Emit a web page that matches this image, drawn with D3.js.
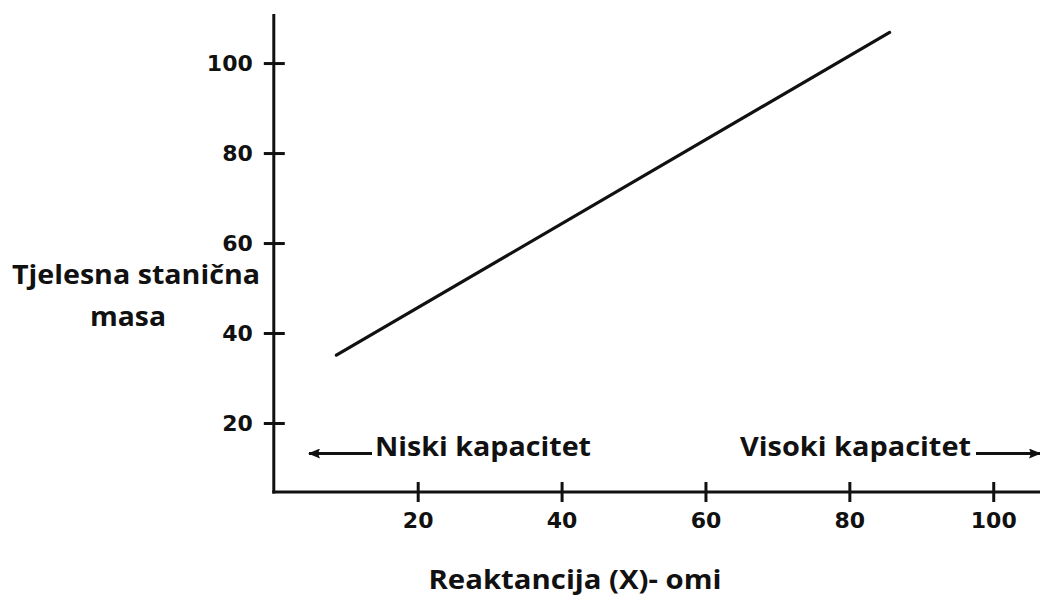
<!DOCTYPE html>
<html>
<head>
<meta charset="utf-8">
<script src="https://cdn.jsdelivr.net/npm/d3@7"></script>
<style>
  html, body { margin: 0; padding: 0; background: #fff; }
  svg { display: block; }
</style>
</head>
<body>
<svg id="chart" width="1040" height="597"></svg>
<script>
// ---- data ----
const xTicks = [20, 40, 60, 80, 100];
const yTicks = [20, 40, 60, 80, 100];
const lineX = [8.7, 85.6];
const lineY = [35.1, 106.8];
const xTitle = "Reaktancija (X)- omi";
const yTitleLines = ["Tjelesna stanična", "masa"];
const lowLabel = "Niski kapacitet";
const highLabel = "Visoki kapacitet";

const svg = d3.select("#chart");

const xMin = 0, xMax = 106.5, yMin = 4.67, yMax = 110.9;
const x = d3.scaleLinear().domain([xMin, xMax]).range([273.8, 1040]);
const y = d3.scaleLinear().domain([yMin, yMax]).range([492, 14]);

const ink = "#111";
const tickFont = "'DejaVu Sans', Verdana, sans-serif";
const textFont = "'Open Sans', Lato, sans-serif";

// axis lines
svg.append("line")
  .attr("x1", x(xMin)).attr("x2", x(xMin))
  .attr("y1", y(yMax)).attr("y2", y(yMin) + 1.5)
  .attr("stroke", ink).attr("stroke-width", 3);
svg.append("line")
  .attr("x1", x(xMin) - 1.5).attr("x2", x(xMax))
  .attr("y1", y(yMin)).attr("y2", y(yMin))
  .attr("stroke", ink).attr("stroke-width", 3);

// y axis ticks
const gy = svg.append("g")
  .attr("transform", `translate(${x(xMin)},0)`)
  .call(d3.axisLeft(y).tickValues(yTicks).tickSize(10).tickPadding(11));
gy.select(".domain").remove();
gy.selectAll(".tick line").attr("x1", 11).attr("stroke", ink).attr("stroke-width", 3);
gy.selectAll(".tick text")
  .attr("font-family", tickFont).attr("font-weight", "bold")
  .attr("font-size", 22).attr("fill", ink);

// x axis ticks
const gx = svg.append("g")
  .attr("transform", `translate(0,${y(yMin)})`)
  .call(d3.axisBottom(x).tickValues(xTicks).tickSize(10).tickPadding(10));
gx.select(".domain").remove();
gx.selectAll(".tick line").attr("y1", -10).attr("stroke", ink).attr("stroke-width", 3);
gx.selectAll(".tick text")
  .attr("font-family", tickFont).attr("font-weight", "bold")
  .attr("font-size", 22).attr("fill", ink);

// data line
const pts = lineX.map((d, i) => [d, lineY[i]]);
svg.append("path")
  .datum(pts)
  .attr("d", d3.line().x(d => x(d[0])).y(d => y(d[1])))
  .attr("fill", "none").attr("stroke", ink).attr("stroke-width", 3.2)
  .attr("stroke-linecap", "round");

// arrow marker
const defs = svg.append("defs");
defs.append("marker")
  .attr("id", "ah").attr("viewBox", "0 0 12 10")
  .attr("refX", 11).attr("refY", 5)
  .attr("markerWidth", 12).attr("markerHeight", 10)
  .attr("markerUnits", "userSpaceOnUse")
  .attr("orient", "auto")
  .append("path").attr("d", "M0,0 L12,5 L0,10 L2,5 Z").attr("fill", ink);

function label(tx, ty, str, len, anchor) {
  return svg.append("text")
    .attr("x", tx).attr("y", ty)
    .attr("text-anchor", anchor || "start")
    .attr("font-family", textFont).attr("font-weight", "bold")
    .attr("font-size", 27).attr("fill", ink)
    .attr("textLength", len).attr("lengthAdjust", "spacingAndGlyphs")
    .text(str);
}

// low / high capacity labels with arrows
const arrowY = 453.5;
svg.append("line")
  .attr("x1", 372).attr("x2", 309).attr("y1", arrowY).attr("y2", arrowY)
  .attr("stroke", ink).attr("stroke-width", 3).attr("marker-end", "url(#ah)");
label(375, 456, lowLabel, 216);

label(740, 456, highLabel, 231);
svg.append("line")
  .attr("x1", 976).attr("x2", 1040).attr("y1", arrowY).attr("y2", arrowY)
  .attr("stroke", ink).attr("stroke-width", 3).attr("marker-end", "url(#ah)");

// axis titles
label(575, 589, xTitle, 293, "middle");
label(136, 284, yTitleLines[0], 248, "middle");
label(128, 326, yTitleLines[1], 76, "middle");
</script>
</body>
</html>
